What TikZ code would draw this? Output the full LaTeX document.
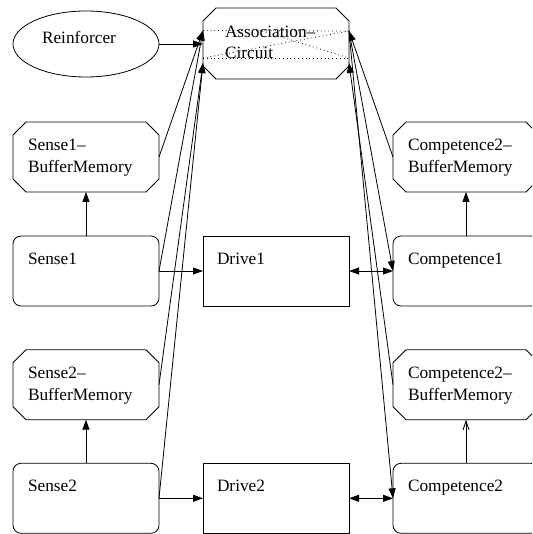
\documentclass[tikz,border=0pt]{standalone}
\usepackage{fontspec}
\setmainfont{Liberation Serif}
\usetikzlibrary{arrows.meta,shapes.geometric}

\begin{document}
\begin{tikzpicture}[x=1pt,y=-1pt,
  every node/.style={inner sep=0pt, outer sep=0pt},
  box/.style={rectangle, minimum width=146pt, minimum height=70pt, line width=0.8pt},
  plainbox/.style={box, draw},
  roundbox/.style={box, draw, rounded corners=8pt},
  octbox/.style={box},
  txt/.style={anchor=base west, font=\fontsize{17.3}{20}\selectfont},
  link/.style={line width=0.8pt, -{Triangle[length=10pt,width=7pt]}},
  openlink/.style={line width=0.8pt, -{Straight Barb[length=9pt,width=6pt,line width=0.8pt]}},
  duallink/.style={line width=0.8pt, {Triangle[length=10pt,width=7pt]}-{Triangle[length=10pt,width=7pt]}},
  inner/.style={line width=0.8pt, dash pattern=on 0.8pt off 3pt}
]
\useasboundingbox (0,0) rectangle (532,534);
\clip (0,0) rectangle (532,534);

% nodes
\node[ellipse, draw, line width=0.8pt, minimum width=146pt, minimum height=66pt] (reinf) at (86,44) {};
\node[octbox, minimum height=71pt] (ac) at (276,43.5) {};
\node[octbox] (sbm1) at (86,157) {};
\node[roundbox] (s1) at (86,271) {};
\node[octbox] (sbm2) at (86,384.7) {};
\node[roundbox] (s2) at (86,498.3) {};
\node[plainbox] (d1) at (276,271) {};
\node[plainbox] (d2) at (276,498.3) {};
\node[octbox] (cbm1) at (466,157) {};
\node[roundbox] (c1) at (466,271) {};
\node[octbox] (cbm2) at (466,384.7) {};
\node[roundbox] (c2) at (466,498.3) {};

% octagon outlines
\foreach \n in {ac,sbm1,sbm2,cbm1,cbm2}
  \draw[line width=0.8pt] ([xshift=13pt]\n.north west) -- ([xshift=-13pt]\n.north east)
    -- ([yshift=-13pt]\n.north east) -- ([yshift=13pt]\n.south east)
    -- ([xshift=-13pt]\n.south east) -- ([xshift=13pt]\n.south west)
    -- ([yshift=13pt]\n.south west) -- ([yshift=-13pt]\n.north west) -- cycle;

% ports of the association circuit
\coordinate (acLT) at (203,30.5);
\coordinate (acLB) at (203,63);
\coordinate (acRT) at (349,31);
\coordinate (acRB) at (349,63);
\coordinate (acLD) at (203,58);
\coordinate (acRD) at (349,58);
\coordinate (acM) at (262,31);

% internal wiring of the association circuit
\draw[inner] (acLT) -- (acRT);
\draw[inner] (acLD) -- (acRD);
\draw[inner] (acLD) -- (acRT);
\draw[inner] (acM) -- (acRD);

% labels
\node[txt] (reinft) at (42,44) {Reinforcer};
\node[txt] (act1) at (225,37.5) {Association–};
\node[txt] (act2) at (225,58.5) {Circuit};
\node[txt] (sbm1t1) at ([xshift=15pt,yshift=-29pt]sbm1.north west) {Sense1–};
\node[txt] (sbm1t2) at ([xshift=15pt,yshift=-50.5pt]sbm1.north west) {BufferMemory};
\node[txt] (s1t) at ([xshift=15pt,yshift=-28.5pt]s1.north west) {Sense1};
\node[txt] (sbm2t1) at ([xshift=15pt,yshift=-29pt]sbm2.north west) {Sense2–};
\node[txt] (sbm2t2) at ([xshift=15pt,yshift=-50.5pt]sbm2.north west) {BufferMemory};
\node[txt] (s2t) at ([xshift=15pt,yshift=-28.5pt]s2.north west) {Sense2};
\node[txt] (d1t) at ([xshift=14pt,yshift=-28.5pt]d1.north west) {Drive1};
\node[txt] (d2t) at ([xshift=14pt,yshift=-28.5pt]d2.north west) {Drive2};
\node[txt] (cbm1t1) at ([xshift=15pt,yshift=-29pt]cbm1.north west) {Competence2–};
\node[txt] (cbm1t2) at ([xshift=15pt,yshift=-50.5pt]cbm1.north west) {BufferMemory};
\node[txt] (c1t) at ([xshift=15pt,yshift=-28.5pt]c1.north west) {Competence1};
\node[txt] (cbm2t1) at ([xshift=15pt,yshift=-29pt]cbm2.north west) {Competence2–};
\node[txt] (cbm2t2) at ([xshift=15pt,yshift=-50.5pt]cbm2.north west) {BufferMemory};
\node[txt] (c2t) at ([xshift=15pt,yshift=-28.5pt]c2.north west) {Competence2};

% connectors
\draw[link] (reinf.east) -- (reinf.east -| ac.west);
\draw[link] (sbm1.east) -- (acLT);
\draw[link] (s1.east) -- (acLT);
\draw[link] (sbm2.east) -- (acLB);
\draw[link] (s2.east) -- (acLB);
\draw[link] (cbm1.west) -- (acRT);
\draw[link] (cbm2.west) -- (acRB);
\draw[link] (acRT) -- (c1.west);
\draw[link] (acRT) -- (c2.west);

\draw[link] (s1.north) -- (sbm1.south);
\draw[link] (s2.north) -- (sbm2.south);
\draw[link] (c1.north) -- (cbm1.south);
\draw[openlink] (c2.north) -- (cbm2.south);

\draw[link] (s1.east) -- (d1.west);
\draw[link] (s2.east) -- (d2.west);
\draw[duallink] (d1.east) -- (c1.west);
\draw[duallink] (d2.east) -- (c2.west);
\end{tikzpicture}
\end{document}
